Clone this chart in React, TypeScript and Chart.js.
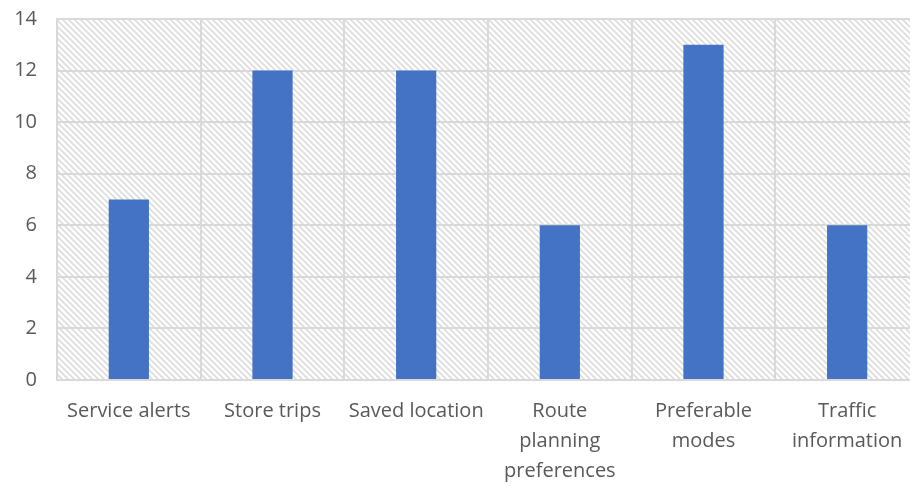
import React, { useEffect, useRef } from "react";
import { Chart, registerables } from "chart.js";

Chart.register(...registerables);

const categories: string[][] = [
  ["Service alerts"],
  ["Store trips"],
  ["Saved location"],
  ["Route", "planning", "preferences"],
  ["Preferable", "modes"],
  ["Traffic", "information"],
];
const values: number[] = [7, 12, 12, 6, 13, 6];
const yMin = 0;
const yMax = 14;
const yStep = 2;

const GRID = "#d9d9d9";
const TEXT = "#595959";
const BAR = "#4472C4";
const FONT = "'Open Sans', 'Liberation Sans', sans-serif";
const SHIFT = 13;

function makePattern(ctx: CanvasRenderingContext2D): CanvasPattern | string {
  const size = 6;
  const c = document.createElement("canvas");
  c.width = size;
  c.height = size;
  const p = c.getContext("2d");
  if (!p) return "#fff";
  p.fillStyle = "#ffffff";
  p.fillRect(0, 0, size, size);
  p.strokeStyle = "#dcdcdc";
  p.lineWidth = 1.6;
  p.beginPath();
  p.moveTo(-1, -1);
  p.lineTo(size + 1, size + 1);
  p.moveTo(-1, size - 1);
  p.lineTo(1, size + 1);
  p.moveTo(size - 1, -1);
  p.lineTo(size + 1, 1);
  p.stroke();
  return ctx.createPattern(c, "repeat") || "#fff";
}

const hatchPlugin = {
  id: "hatch",
  beforeDraw(chart: any) {
    const { ctx, chartArea } = chart;
    if (!chartArea) return;
    ctx.save();
    ctx.fillStyle = makePattern(ctx);
    ctx.fillRect(
      chartArea.left,
      chartArea.top,
      chartArea.right - chartArea.left,
      chartArea.bottom - chartArea.top
    );
    ctx.restore();
  },
};

export default function App() {
  const ref = useRef<HTMLCanvasElement | null>(null);

  useEffect(() => {
    if (!ref.current) return;
    const chart = new Chart(ref.current, {
      type: "bar",
      data: {
        labels: categories,
        datasets: [
          {
            data: values,
            backgroundColor: BAR,
            borderWidth: 0,
            barPercentage: 0.28,
            categoryPercentage: 1,
          },
        ],
      },
      options: {
        responsive: false,
        animation: false,
        layout: { padding: { top: 7, right: 11, left: 0, bottom: 0 } },
        plugins: {
          legend: { display: false },
          tooltip: { enabled: false },
        },
        scales: {
          x: {
            grid: {
              color: GRID,
              lineWidth: 2,
              drawTicks: false,
              offset: true,
            },
            border: { color: GRID, width: 2 },
            ticks: {
              color: TEXT,
              font: { family: FONT, size: 20, lineHeight: 1.5 },
              padding: 16,
              maxRotation: 0,
              autoSkip: false,
            },
            afterFit(scale: any) {
              scale.height = 106;
            },
          },
          y: {
            min: yMin,
            max: yMax,
            grid: { color: GRID, lineWidth: 2, drawTicks: false },
            border: { color: GRID, width: 2 },
            ticks: {
              stepSize: yStep,
              color: TEXT,
              font: { family: FONT, size: 20 },
              padding: 20,
            },
            afterFit(scale: any) {
              scale.width = 57;
            },
          },
        },
      },
      plugins: [hatchPlugin],
    });
    return () => chart.destroy();
  }, []);

  return (
    <div
      style={{
        position: "absolute",
        left: 0,
        top: 0,
        width: 910,
        height: 486,
        overflow: "hidden",
        background: "#fff",
      }}
    >
      <canvas
        ref={ref}
        width={930}
        height={486 + SHIFT}
        style={{ display: "block", marginTop: -SHIFT }}
      />
    </div>
  );
}
